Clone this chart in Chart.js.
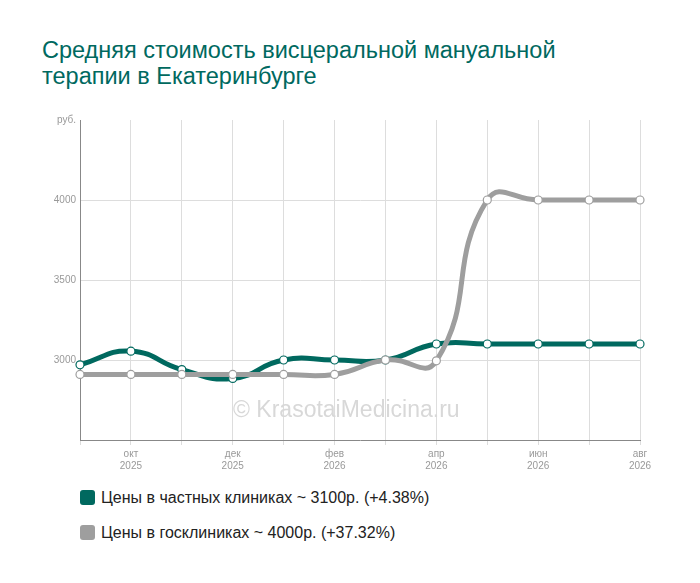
<!DOCTYPE html>
<html>
<head>
<meta charset="utf-8">
<script src="https://cdn.jsdelivr.net/npm/chart.js@4"></script>
<style>
body { margin: 0; background: #fff; font-family: Arial, "Liberation Sans", sans-serif; }
#title { position: absolute; left: 42px; top: 37px; font-size: 23.5px; line-height: 26px; color: #00695f; }
#wrap { position: absolute; left: 0; top: 100px; width: 680px; height: 370px; }
#mark { position: absolute; left: 233px; top: 396px; font-size: 23px; color: #d8d8d8; }
.leg { position: absolute; left: 80px; font-size: 16px; color: #222; }
.leg span { display: inline-block; width: 15px; height: 15px; border-radius: 3px; vertical-align: -2px; margin-right: 6px; }
</style>
</head>
<body>
<div id="title">Средняя стоимость висцеральной мануальной<br>терапии в Екатеринбурге</div>
<div id="wrap"><canvas id="chart"></canvas></div>
<div id="mark">© KrasotaiMedicina.ru</div>
<div class="leg" style="top:489px"><span style="background:#00695f"></span>Цены в частных клиниках ~ 3100р. (+4.38%)</div>
<div class="leg" style="top:524px"><span style="background:#9e9e9e"></span>Цены в госклиниках ~ 4000р. (+37.32%)</div>
<script>
const months = ["сен", "окт", "ноя", "дек", "янв", "фев", "мар", "апр", "май", "июн", "июл", "авг"];
const years = ["2025", "2025", "2025", "2025", "2026", "2026", "2026", "2026", "2026", "2026", "2026", "2026"];
const privatePrices = [2970, 3055, 2940, 2885, 3000, 3000, 3000, 3100, 3100, 3100, 3100, 3100];
const publicPrices = [2910, 2910, 2910, 2910, 2910, 2910, 3000, 2995, 4000, 4000, 4000, 4000];
const yTicks = [3000, 3500, 4000];

function series(data, color) {
    return {
        data: data,
        borderColor: color,
        borderWidth: 5,
        tension: 0.5,
        pointRadius: 4,
        pointBackgroundColor: "#fff",
        pointBorderColor: color,
        pointBorderWidth: 1.2
    };
}

new Chart(document.getElementById("chart"), {
    type: "line",
    data: {
        labels: months,
        datasets: [series(publicPrices, "#9e9e9e"), series(privatePrices, "#00695f")]
    },
    options: {
        responsive: true,
        maintainAspectRatio: false,
        animation: false,
        layout: { padding: { top: 20, right: 40 } },
        plugins: { legend: { display: false }, tooltip: { enabled: false } },
        scales: {
            x: {
                offset: false,
                afterFit: s => { s.height = 30; },
                grid: { color: "#ddd", drawTicks: true, tickLength: 5 },
                border: { color: "#888" },
                ticks: {
                    autoSkip: false, maxRotation: 0, color: "#999", font: { size: 10 },
                    callback: (v, i) => i % 2 === 1 ? [months[i], years[i]] : ""
                }
            },
            y: {
                min: 2500, max: 4500,
                afterFit: s => { s.width = 80; },
                afterBuildTicks: s => { s.ticks = [2500, ...yTicks, 4500].map(v => ({ value: v })); },
                grid: { color: c => yTicks.includes(c.tick.value) ? "#ddd" : "transparent", drawTicks: false },
                border: { color: "#888" },
                ticks: {
                    color: "#999", font: { size: 10 }, padding: 4,
                    callback: v => v === 4500 ? "руб." : (v === 2500 ? "" : v)
                }
            }
        }
    }
});
</script>
</body>
</html>
